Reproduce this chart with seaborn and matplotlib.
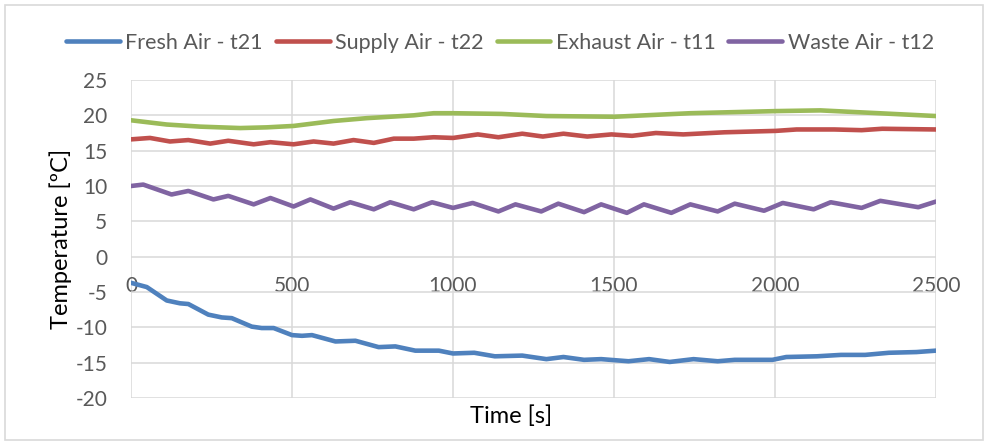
import numpy as np
import pandas as pd
import matplotlib
matplotlib.use("Agg")
import matplotlib.pyplot as plt
import seaborn as sns
from matplotlib.lines import Line2D
from matplotlib.patches import Rectangle

# ---- data ----
t_fresh = [0, 49, 111, 152, 178, 240, 282, 313, 375, 406, 443, 500, 531, 562, 635, 697, 769,
           821, 883, 956, 1000, 1066, 1130, 1215, 1290, 1343, 1407, 1460, 1545, 1609, 1673,
           1747, 1822, 1875, 1992, 2035, 2130, 2205, 2280, 2354, 2439, 2500]
v_fresh = [-3.7, -4.3, -6.2, -6.6, -6.7, -8.2, -8.6, -8.7, -9.9, -10.1, -10.1, -11.1, -11.2,
           -11.1, -12.0, -11.9, -12.8, -12.7, -13.3, -13.3, -13.7, -13.6, -14.1, -14.0, -14.5,
           -14.2, -14.6, -14.5, -14.8, -14.5, -14.9, -14.5, -14.8, -14.6, -14.6, -14.2, -14.1,
           -13.9, -13.9, -13.6, -13.5, -13.3]

t_supply = [0, 59, 121, 178, 246, 302, 381, 433, 505, 567, 629, 691, 754, 816, 878, 940,
            1000, 1077, 1141, 1215, 1279, 1343, 1417, 1492, 1556, 1630, 1715, 1843, 2003,
            2067, 2184, 2269, 2333, 2500]
v_supply = [16.6, 16.8, 16.3, 16.5, 16.0, 16.4, 15.9, 16.2, 15.9, 16.3, 16.0, 16.5, 16.1,
            16.7, 16.7, 16.9, 16.8, 17.3, 16.9, 17.4, 17.0, 17.4, 17.0, 17.3, 17.1, 17.5,
            17.3, 17.6, 17.8, 18.0, 18.0, 17.9, 18.1, 18.0]

t_exhaust = [0, 111, 215, 339, 422, 505, 629, 732, 878, 940, 1000, 1151, 1290, 1502, 1737,
             2003, 2141, 2322, 2500]
v_exhaust = [19.3, 18.7, 18.4, 18.2, 18.3, 18.5, 19.2, 19.6, 20.0, 20.3, 20.3, 20.2, 19.9,
             19.8, 20.3, 20.6, 20.7, 20.3, 19.9]

t_waste = [0, 38, 126, 178, 256, 302, 381, 433, 505, 557, 629, 681, 754, 805, 878, 935,
           1000, 1061, 1141, 1194, 1274, 1327, 1407, 1460, 1540, 1593, 1678, 1737, 1822,
           1875, 1966, 2024, 2120, 2173, 2269, 2327, 2445, 2500]
v_waste = [10.0, 10.2, 8.8, 9.3, 8.1, 8.6, 7.4, 8.3, 7.1, 8.1, 6.8, 7.7, 6.7, 7.7, 6.7, 7.7,
           6.9, 7.6, 6.4, 7.4, 6.4, 7.5, 6.3, 7.4, 6.2, 7.4, 6.2, 7.4, 6.4, 7.5, 6.5, 7.6,
           6.7, 7.7, 6.9, 7.9, 7.0, 7.8]

series_names = ["Fresh Air - t21", "Supply Air - t22", "Exhaust Air - t11", "Waste Air - t12"]
colors = ["#4F81BD", "#C0504D", "#9BBB59", "#8064A2"]
x_ticks = [0, 500, 1000, 1500, 2000, 2500]
y_ticks = [-20, -15, -10, -5, 0, 5, 10, 15, 20, 25]

frames = []
for name, t, v in zip(series_names, [t_fresh, t_supply, t_exhaust, t_waste],
                      [v_fresh, v_supply, v_exhaust, v_waste]):
    frames.append(pd.DataFrame({"Time": t, "Temp": v, "Series": name}))
df = pd.concat(frames, ignore_index=True)

sns.set_theme(style="white")
plt.rcParams["font.family"] = ["Lato", "DejaVu Sans"]

W, H = 987, 443
L, R, T, B = 131, 936, 80, 398
fig = plt.figure(figsize=(W / 100, H / 100), dpi=100)
ax = fig.add_axes([L / W, 1 - B / H, (R - L) / W, (B - T) / H])

sns.lineplot(data=df, x="Time", y="Temp", hue="Series", hue_order=series_names,
             palette=colors, linewidth=3.3, ax=ax, sort=False, legend=False, zorder=3)

ax.set_xlim(0, 2500)
ax.set_ylim(-20, 25)
ax.set_xticks(x_ticks)
ax.set_yticks(y_ticks)
ax.set_xticklabels([str(v) for v in x_ticks])
ax.set_yticklabels([str(v) for v in y_ticks])
ax.grid(True, color="#D9D9D9", linewidth=1.1, zorder=0)
ax.set_axisbelow(True)
for s in ax.spines.values():
    s.set_visible(False)
ax.spines["bottom"].set_position(("data", 0))
ax.tick_params(axis="both", length=0, colors="#595959", labelsize=15)
ax.tick_params(axis="x", pad=14)
ax.tick_params(axis="y", pad=17)

ax.set_xlabel("Time [s]", fontsize=17, color="black")
ax.set_ylabel("Temperature [ºC]", fontsize=17, color="black")
ax.xaxis.set_label_coords((511 - L) / (R - L), (B - 405) / (B - T))
ax.yaxis.set_label_coords((72 - L) / (R - L), 0.5)

handles = [Line2D([0], [0], color=c, linewidth=3.3) for c in colors]
fig.legend(handles, series_names, loc="center", bbox_to_anchor=(500 / W, 1 - 43 / H),
           ncol=4, frameon=False, fontsize=15.5, handlelength=2.5, handletextpad=0.25,
           columnspacing=0.6, labelcolor="#595959")

fig.patches.append(Rectangle((5 / W, 3 / H), (983 - 5) / W, (438 - 3) / H,
                             transform=fig.transFigure, fill=False,
                             edgecolor="#D9D9D9", linewidth=1.2))

fig.savefig("out.png", dpi=100)
